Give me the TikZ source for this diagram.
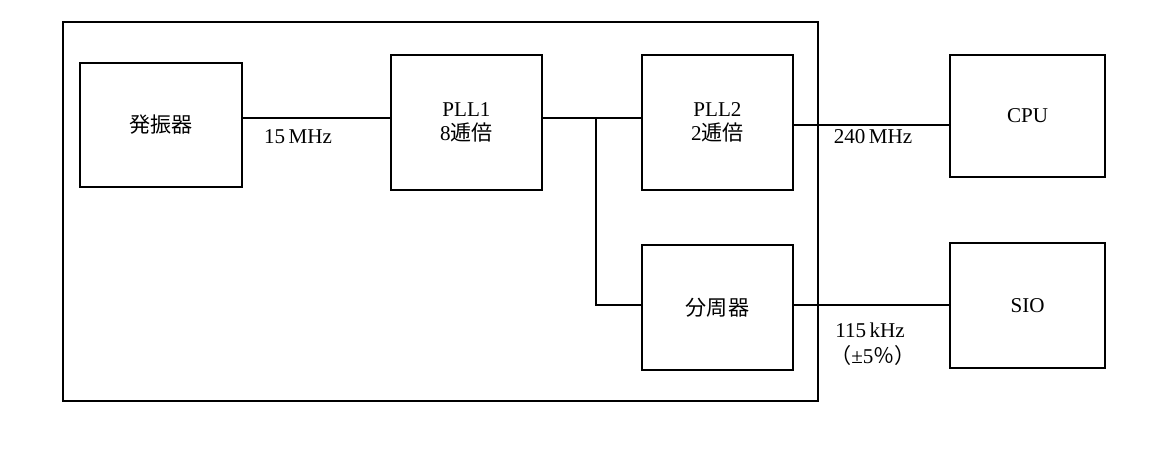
\documentclass[tikz,border=0pt]{standalone}
\usepackage{fontspec}
\setmainfont{Liberation Serif}
\newfontfamily\cjk{Noto Sans CJK JP}
\begin{document}
\begin{tikzpicture}[x=0.02cm,y=-0.02cm,
  blk/.style={draw,line width=0.7pt,inner sep=0pt,font=\fontsize{12pt}{14pt}\selectfont,align=center},
  lbl/.style={font=\fontsize{12pt}{14pt}\selectfont,inner sep=0pt},
  ln/.style={line width=0.7pt}]
\useasboundingbox (0,0) rectangle (1159,465);
\node[draw,line width=0.7pt,minimum width=755*0.02cm,minimum height=379*0.02cm,inner sep=0pt] (outer) at (440.5,211.5) {};
\node[blk,minimum width=162*0.02cm,minimum height=124*0.02cm] (osc) at (161,125) {{\cjk 発振器}};
\node[blk,minimum width=151*0.02cm,minimum height=135*0.02cm] (pll1) at (466.5,122.5) {PLL1\\8{\cjk 逓倍}};
\node[blk,minimum width=151*0.02cm,minimum height=135*0.02cm] (pll2) at (717.5,122.5) {PLL2\\2{\cjk 逓倍}};
\node[blk,minimum width=155*0.02cm,minimum height=122*0.02cm] (cpu) at (1027.5,116) {CPU};
\node[blk,minimum width=151*0.02cm,minimum height=125*0.02cm] (div) at (717.5,307.5) {{\cjk 分周器}};
\node[blk,minimum width=155*0.02cm,minimum height=125*0.02cm] (sio) at (1027.5,305.5) {SIO};
\coordinate (br) at (596,118);
\draw[ln] (osc.east|-0,118) -- (pll1.west|-0,118);
\draw[ln] (pll1.east|-0,118) -- (pll2.west|-0,118);
\draw[ln] (br) |- (div.west|-0,305);
\draw[ln] (pll2.east|-0,125) -- (cpu.west|-0,125);
\draw[ln] (div.east|-0,305) -- (sio.west|-0,305);
\node[lbl] (l1) at (298,137) {15\,MHz};
\node[lbl] (l2) at (873,137) {240\,MHz};
\node[lbl] (l3) at (870,330) {115\,kHz};
\node[lbl] (l4) at (873,355) {{\cjk （}±5{\cjk ％）}};
\end{tikzpicture}
\end{document}
